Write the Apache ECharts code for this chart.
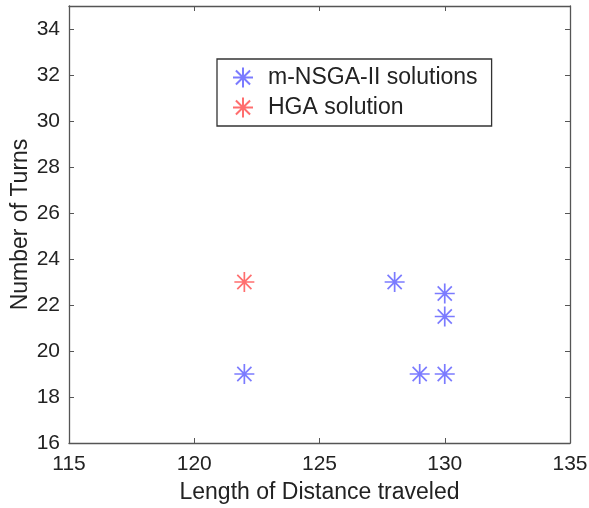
<!DOCTYPE html>
<html><head><meta charset="utf-8">
<script src="https://cdn.jsdelivr.net/npm/echarts@6/dist/echarts.min.js"></script>
<style>html,body{margin:0;padding:0;background:#fff}#c{width:589px;height:508px}</style>
</head><body><div id="c"></div>
<script>
const nsgaX = [122, 128, 130, 130, 129, 130];
const nsgaY = [19, 23, 22.5, 21.5, 19, 19];
const hgaX = [122];
const hgaY = [23];
const xTicks = [115, 120, 125, 130, 135];
const yTicks = [16, 18, 20, 22, 24, 26, 28, 30, 32, 34];
const seriesNames = ['m-NSGA-II solutions', 'HGA solution'];

const star = 'path://M0,-10L0,10M-10,0L10,0M-7.07,-7.07L7.07,7.07M-7.07,7.07L7.07,-7.07';
const font = 'Liberation Sans, Arial, sans-serif';
const axisCol = '#555';
function pairs(xs, ys){ return xs.map((x,i)=>[x, ys[i]]); }

const chart = echarts.init(document.getElementById('c'));
const baseX = {type:'value', min:115, max:135, interval:5,
  axisLine:{show:true, lineStyle:{color:axisCol, width:1.3}},
  axisTick:{show:true, inside:true, length:5, lineStyle:{color:axisCol}},
  splitLine:{show:false}};
const baseY = {type:'value', min:16, max:35, interval:2,
  axisLine:{show:true, lineStyle:{color:axisCol, width:1.3}},
  axisTick:{show:true, inside:true, length:5, lineStyle:{color:axisCol}},
  splitLine:{show:false}};
chart.setOption({
  animation:false,
  grid:{left:69, right:19, top:6, bottom:65, containLabel:false, outerBoundsMode:'none'},
  xAxis:[
    Object.assign({}, baseX, {position:'bottom',
      name:'Length of Distance traveled', nameLocation:'middle', nameGap:38,
      nameMoveOverlap:false,
      nameTextStyle:{fontFamily:font, fontSize:23, color:'#222'},
      axisLabel:{fontFamily:font, fontSize:21, color:'#222', margin:11,
        formatter: v => xTicks.includes(v) ? String(v) : ''}}),
    Object.assign({}, baseX, {position:'top', axisLabel:{show:false}})
  ],
  yAxis:[
    Object.assign({}, baseY, {position:'left',
      name:'Number of Turns', nameLocation:'middle', nameGap:37,
      nameMoveOverlap:false,
      nameTextStyle:{fontFamily:font, fontSize:23, color:'#222'},
      axisLabel:{fontFamily:font, fontSize:21, color:'#222', margin:9,
        formatter: v => yTicks.includes(v) ? String(v) : ''}}),
    Object.assign({}, baseY, {position:'right', axisLabel:{show:false}})
  ],
  legend:{
    left:217, top:59, orient:'vertical',
    data:seriesNames,
    borderColor:'#333', borderWidth:1.3, padding:[7,14,7,15],
    itemWidth:20, itemHeight:20, itemGap:7,
    textStyle:{fontFamily:font, fontSize:23, color:'#222', padding:[0,0,0,10]}
  },
  series:[
    {name:seriesNames[0], type:'scatter', data:pairs(nsgaX, nsgaY),
     symbol:star, symbolSize:20,
     itemStyle:{color:'rgba(0,0,0,0)', borderColor:'#5a5aff', borderWidth:1.7}},
    {name:seriesNames[1], type:'scatter', data:pairs(hgaX, hgaY),
     symbol:star, symbolSize:20,
     itemStyle:{color:'rgba(0,0,0,0)', borderColor:'#ff4a4a', borderWidth:1.7}}
  ]
});
</script></body></html>
